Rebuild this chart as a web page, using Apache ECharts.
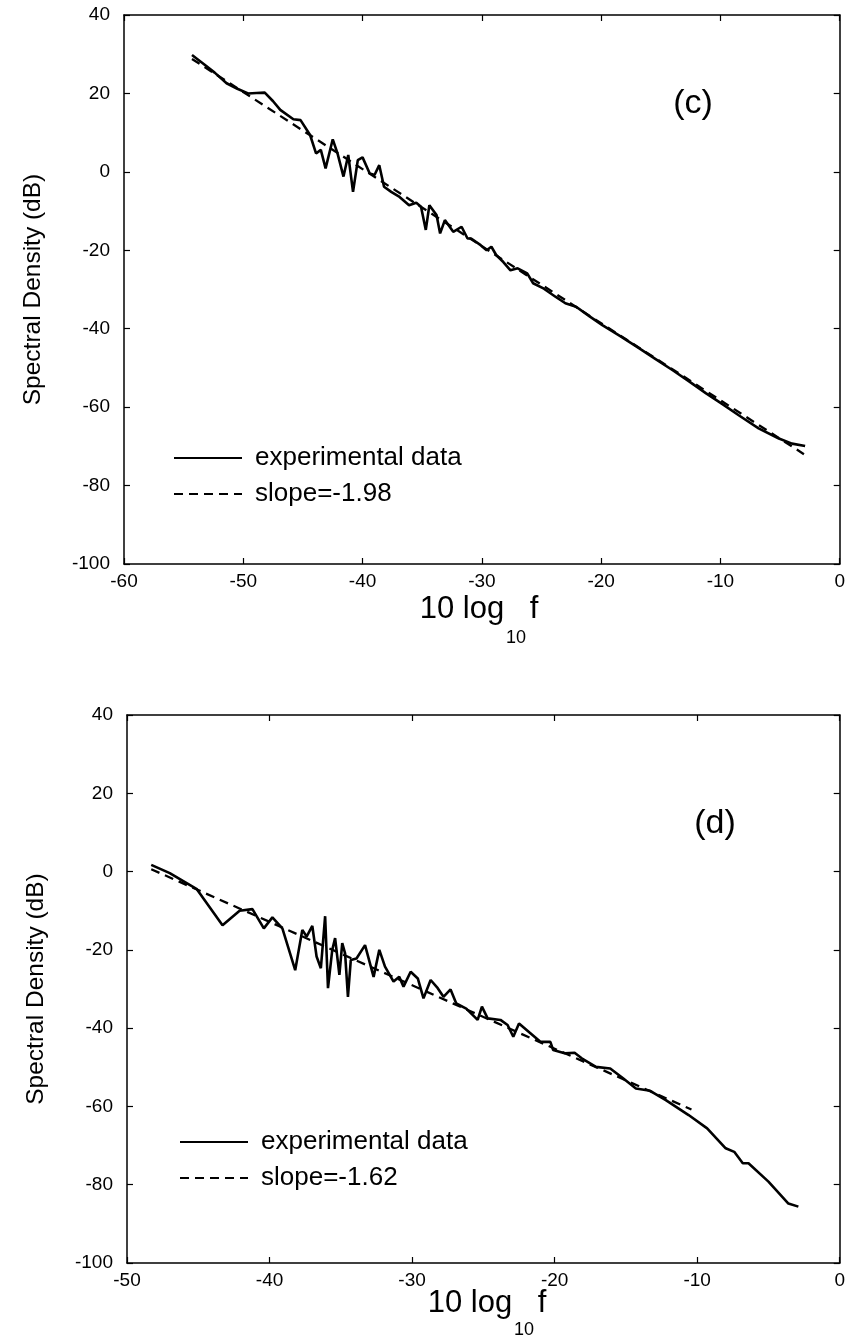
<!DOCTYPE html>
<html>
<head>
<meta charset="utf-8">
<script src="https://cdn.jsdelivr.net/npm/echarts@6/dist/echarts.min.js"></script>
<style>
  html, body { margin: 0; padding: 0; background: #fff; }
  #chart { width: 848px; height: 1341px; }
</style>
</head>
<body>
<div id="chart"></div>
<script>
// panel (c): experimental spectrum, [10 log10 f, dB]
const expC = [
  [-54.3, 29.8], [-53.4, 27.7], [-52.4, 25.3], [-51.4, 22.6], [-50.5, 21.2], [-49.6, 20.0],
  [-48.9, 20.1], [-48.2, 20.2], [-47.5, 18.0], [-46.9, 15.8], [-45.8, 13.4], [-45.2, 13.2],
  [-44.4, 9.4], [-43.9, 4.7], [-43.5, 5.6], [-43.1, 0.9], [-42.5, 8.3], [-42.1, 4.7],
  [-41.6, -1.2], [-41.2, 4.3], [-40.8, -5.1], [-40.4, 3.0], [-40.0, 3.7], [-39.4, -0.4],
  [-39.0, -0.8], [-38.6, 1.7], [-38.2, -3.8], [-37.6, -5.1], [-36.9, -6.4], [-36.1, -8.5],
  [-35.5, -7.9], [-35.1, -8.9], [-34.7, -14.8], [-34.4, -8.5], [-33.8, -11.0], [-33.5, -15.7],
  [-33.1, -12.3], [-32.4, -15.3], [-31.7, -14.0], [-31.2, -17.0], [-30.9, -17.0], [-30.1, -18.7],
  [-29.6, -20.0], [-29.2, -19.1], [-28.8, -21.2], [-28.2, -23.0], [-27.6, -25.1], [-27.0, -24.6],
  [-26.2, -25.9], [-25.7, -28.4], [-24.8, -29.8], [-23.8, -31.9], [-23.0, -33.5], [-22.1, -34.4],
  [-21.0, -36.8], [-19.9, -39.1], [-18.4, -41.9], [-16.8, -45.0], [-15.4, -47.8], [-14.0, -50.6],
  [-12.6, -53.5], [-11.2, -56.5], [-9.8, -59.3], [-8.5, -62.0], [-6.8, -65.4], [-5.1, -68.0],
  [-4.0, -69.3], [-2.9, -69.9]
];
const fitC = [[-54.3, 28.8], [-3.0, -72.0]];

// panel (d)
const expD = [
  [-48.3, 1.7], [-47.0, -0.4], [-45.1, -4.5], [-43.3, -13.7], [-42.1, -10.0], [-41.2, -9.6],
  [-40.4, -14.5], [-39.8, -11.7], [-39.1, -14.5], [-38.2, -25.2], [-37.7, -14.9], [-37.4, -16.6],
  [-37.0, -13.9], [-36.7, -21.7], [-36.4, -24.7], [-36.1, -11.4], [-35.9, -29.8], [-35.6, -20.0],
  [-35.4, -17.0], [-35.1, -26.4], [-34.9, -18.3], [-34.7, -20.9], [-34.5, -32.0], [-34.3, -22.6],
  [-33.9, -22.2], [-33.3, -18.8], [-32.7, -26.9], [-32.3, -20.0], [-31.9, -24.3], [-31.3, -28.1],
  [-30.9, -26.9], [-30.6, -29.4], [-30.1, -25.6], [-29.6, -27.3], [-29.2, -32.4], [-28.7, -27.7],
  [-28.2, -29.8], [-27.8, -32.0], [-27.3, -30.1], [-26.9, -33.7], [-26.2, -35.0], [-25.4, -37.9],
  [-25.1, -34.5], [-24.7, -37.5], [-23.8, -37.9], [-23.3, -39.2], [-22.9, -42.2], [-22.5, -38.8],
  [-21.7, -41.3], [-21.0, -43.5], [-20.3, -43.5], [-20.1, -45.6], [-19.3, -46.4], [-18.6, -46.3],
  [-18.1, -47.7], [-17.1, -49.9], [-16.1, -50.3], [-15.2, -52.8], [-14.3, -55.4], [-13.3, -56.0],
  [-12.2, -58.4], [-10.6, -62.2], [-9.3, -65.6], [-8.0, -70.7], [-7.4, -71.6], [-6.8, -74.5],
  [-6.4, -74.5], [-5.0, -79.2], [-3.6, -84.8], [-2.9, -85.6]
];
const fitD = [[-48.3, 0.6], [-10.4, -60.8]];

const font = '"Liberation Sans", Arial, sans-serif';
const black = '#000';

const chart = echarts.init(document.getElementById('chart'), null, { renderer: 'canvas' });

const xAxisFor = (grid, min, shown) => ({
  type: 'value',
  gridIndex: grid,
  min: min,
  max: 0,
  interval: 10,
  position: shown ? 'bottom' : 'top',
  axisLine: { show: true, onZero: false, lineStyle: { color: black, width: 1.5 } },
  axisTick: { show: true, inside: true, length: 6, lineStyle: { color: black, width: 1.2 } },
  axisLabel: { show: shown, color: black, fontSize: 19, fontFamily: font, margin: 8 },
  splitLine: { show: false }
});

const yAxisFor = (grid, shown) => ({
  type: 'value',
  gridIndex: grid,
  min: -100,
  max: 40,
  interval: 20,
  position: shown ? 'left' : 'right',
  name: shown ? 'Spectral Density (dB)' : '',
  nameLocation: 'middle',
  nameGap: 78,
  nameTextStyle: { color: black, fontSize: 24.5, fontFamily: font },
  axisLine: { show: true, onZero: false, lineStyle: { color: black, width: 1.5 } },
  axisTick: { show: true, inside: true, length: 6, lineStyle: { color: black, width: 1.2 } },
  axisLabel: { show: shown, color: black, fontSize: 19, fontFamily: font, margin: 14 },
  splitLine: { show: false }
});

const solid = { color: black, width: 2.6, type: 'solid' };
const dashed = { color: black, width: 2.3, type: [9, 6] };

const line = (name, data, style, idx) => ({
  name: name,
  type: 'line',
  xAxisIndex: idx,
  yAxisIndex: idx,
  data: data,
  showSymbol: false,
  symbol: 'none',
  lineStyle: style,
  itemStyle: { color: black },
  animation: false
});

const legendFor = (left, top, names) => ({
  left: left,
  top: top,
  orient: 'vertical',
  itemWidth: 68,
  itemHeight: 14,
  itemGap: 10,
  data: names,
  selectedMode: false,
  itemStyle: { color: 'rgba(0,0,0,0)', borderWidth: 0 },
  textStyle: { color: black, fontSize: 26, fontFamily: font, padding: [0, 0, 0, 8] }
});

const text = (x, y, str, size) => ({
  type: 'text',
  x: x,
  y: y,
  style: { text: str, fill: black, font: size + 'px ' + font, textAlign: 'center', textVerticalAlign: 'middle' }
});

chart.setOption({
  backgroundColor: '#fff',
  animation: false,
  grid: [
    { left: 124, top: 15, width: 718, height: 549 },
    { left: 127, top: 715, width: 718, height: 548 }
  ],
  xAxis: [xAxisFor(0, -60, true), xAxisFor(1, -50, true), xAxisFor(0, -60, false), xAxisFor(1, -50, false)],
  yAxis: [yAxisFor(0, true), yAxisFor(1, true), yAxisFor(0, false), yAxisFor(1, false)],
  legend: [
    legendFor(168, 440, ['experimental data', 'slope=-1.98']),
    legendFor(174, 1124, ['experimental data', 'slope=-1.62'])
  ],
  series: [
    line('experimental data', expC, solid, 0),
    line('slope=-1.98', fitC, dashed, 0),
    line('experimental data', expD, solid, 1),
    line('slope=-1.62', fitD, dashed, 1)
  ],
  graphic: [
    text(462, 609, '10 log', 31),
    text(534, 609, 'f', 31),
    text(516, 638, '10', 18),
    text(470, 1303, '10 log', 31),
    text(542, 1303, 'f', 31),
    text(524, 1330, '10', 18),
    text(693, 104, '(c)', 34),
    text(715, 824, '(d)', 34)
  ]
});
</script>
</body>
</html>
